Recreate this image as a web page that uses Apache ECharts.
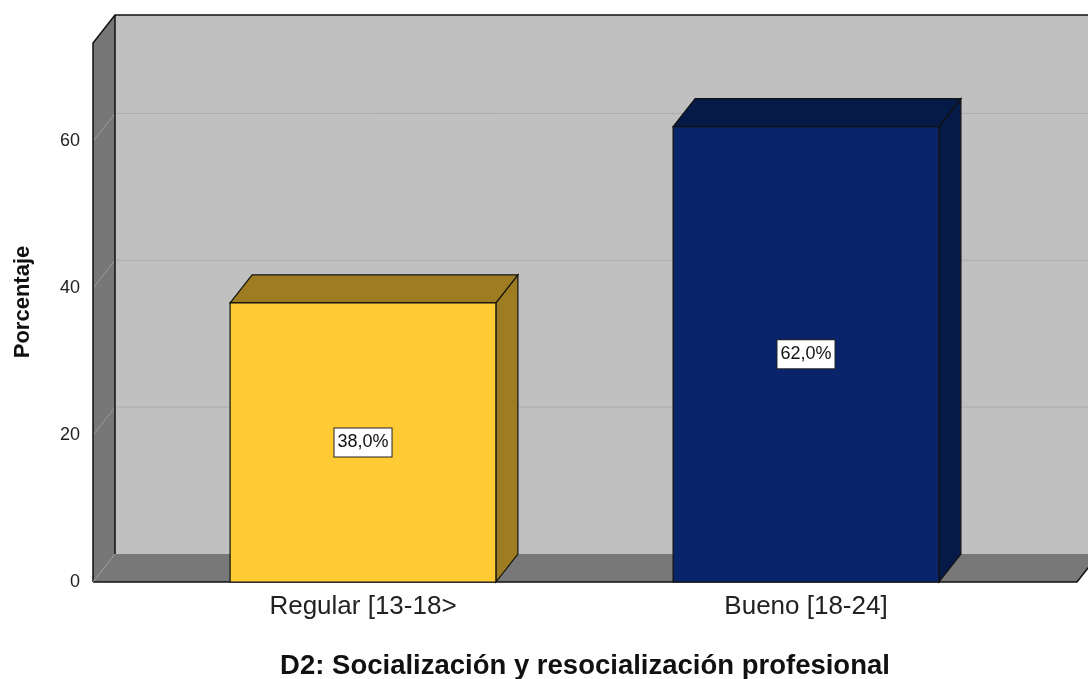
<!DOCTYPE html>
<html>
<head>
<meta charset="utf-8">
<script src="https://cdn.jsdelivr.net/npm/echarts@6/dist/echarts.min.js"></script>
<style>
html, body { margin: 0; padding: 0; background: #fff; }
#chart { width: 1088px; height: 679px; }
</style>
</head>
<body>
<div id="chart"></div>
<script>
let categories = ['Regular [13-18>', 'Bueno [18-24]']
let percentValues = [38.0, 62.0]
let yTicks = [0, 20, 40, 60]
let yMax = 73.4

// profundidad del efecto 3D (px)
let depthX = 22
let depthY = -28

let frontColors = ['#fecb34', '#09246b']
let darkColors = ['#9e7c22', '#061a47']

let fmtPct = v => v.toFixed(1).replace('.', ',') + '%'

let renderWalls = (params, api) => {
	let cs = params.coordSys
	let x0 = cs.x
	let x1 = cs.x + cs.width
	let yb = api.coord([0, 0])[1]
	let yt = api.coord([0, yMax])[1]
	let children = []
	// pared del fondo
	children.push({
		type: 'rect',
		shape: { x: x0 + depthX, y: yt + depthY, width: x1 - x0 + 30, height: yb - yt },
		style: { fill: '#c0c0c0' }
	})
	// pared izquierda
	children.push({
		type: 'polygon',
		shape: { points: [[x0, yt], [x0 + depthX, yt + depthY], [x0 + depthX, yb + depthY], [x0, yb]] },
		style: { fill: '#777777' }
	})
	// suelo
	children.push({
		type: 'polygon',
		shape: { points: [[x0, yb], [x0 + depthX, yb + depthY], [x1 + depthX, yb + depthY], [x1, yb]] },
		style: { fill: '#787878' }
	})
	// lineas de cuadricula
	yTicks.forEach(t => {
		if (t == 0) return
		let y = api.coord([0, t])[1]
		children.push({
			type: 'polyline',
			shape: { points: [[x0, y], [x0 + depthX, y + depthY]] },
			style: { stroke: '#9a9a9a', lineWidth: 1, fill: null }
		})
		children.push({
			type: 'line',
			shape: { x1: x0 + depthX, y1: y + depthY, x2: x1 + depthX + 30, y2: y + depthY },
			style: { stroke: '#acacac', lineWidth: 1 }
		})
	})
	// bordes
	let edge = { stroke: '#111', lineWidth: 1.5, fill: null }
	children.push({
		type: 'polyline',
		shape: { points: [[x0, yb], [x0, yt], [x0 + depthX, yt + depthY], [x1 + depthX + 30, yt + depthY]] },
		style: edge
	})
	children.push({
		type: 'line',
		shape: { x1: x0 + depthX, y1: yt + depthY, x2: x0 + depthX, y2: yb + depthY },
		style: edge
	})
	children.push({
		type: 'polyline',
		shape: { points: [[x0, yb], [x1, yb], [x1 + depthX, yb + depthY]] },
		style: edge
	})
	children.push({
		type: 'line',
		shape: { x1: x0, y1: yb, x2: x0 + depthX, y2: yb + depthY },
		style: { stroke: '#999', lineWidth: 1 }
	})
	return { type: 'group', children: children }
}

let renderBar = (params, api) => {
	let idx = api.value(0)
	let val = api.value(1)
	let pb = api.coord([idx, 0])
	let pt = api.coord([idx, val])
	let bw = api.size([1, 0])[0] * 0.6
	let xl = pb[0] - bw / 2
	let xr = pb[0] + bw / 2
	let yb = pb[1]
	let yt = pt[1]
	let edge = '#111'
	return {
		type: 'group',
		children: [
			{
				type: 'polygon',
				shape: { points: [[xr, yt], [xr + depthX, yt + depthY], [xr + depthX, yb + depthY], [xr, yb]] },
				style: { fill: darkColors[idx], stroke: edge, lineWidth: 1.2 }
			},
			{
				type: 'polygon',
				shape: { points: [[xl, yt], [xl + depthX, yt + depthY], [xr + depthX, yt + depthY], [xr, yt]] },
				style: { fill: darkColors[idx], stroke: edge, lineWidth: 1.2 }
			},
			{
				type: 'rect',
				shape: { x: xl, y: yt, width: bw, height: yb - yt },
				style: { fill: frontColors[idx], stroke: edge, lineWidth: 1.2 }
			},
			{
				type: 'text',
				x: pb[0],
				y: (yt + yb) / 2,
				style: {
					text: fmtPct(val),
					fill: '#111',
					font: '18px "Liberation Sans", Arial, sans-serif',
					align: 'center',
					verticalAlign: 'middle',
					backgroundColor: '#fff',
					borderColor: '#222',
					borderWidth: 1,
					padding: [5, 3, 5, 3]
				}
			}
		]
	}
}

let chart = echarts.init(document.getElementById('chart'))
let option = {
	backgroundColor: '#fff',
	animation: false,
	textStyle: { fontFamily: '"Liberation Sans", Arial, sans-serif' },
	grid: [
		{ left: 93, right: 11, top: 43, bottom: 97, outerBoundsMode: 'none', containLabel: false },
		{ left: 141.5, right: 60.5, top: 43, bottom: 97, outerBoundsMode: 'none', containLabel: false }
	],
	xAxis: [
		{
			gridIndex: 0,
			type: 'value',
			min: 0,
			max: 1,
			name: 'D2: Socialización y resocialización profesional',
			nameLocation: 'middle',
			nameGap: 70,
			nameTextStyle: { fontSize: 27.5, fontWeight: 'bold', color: '#111' },
			axisLine: { show: false },
			axisTick: { show: false },
			axisLabel: { show: false },
			splitLine: { show: false }
		},
		{
			gridIndex: 1,
			type: 'category',
			data: categories,
			axisLine: { show: false },
			axisTick: { show: false },
			axisLabel: { fontSize: 26, color: '#222', margin: 12 },
			splitLine: { show: false }
		}
	],
	yAxis: [
		{
			gridIndex: 0,
			type: 'value',
			min: 0,
			max: yMax,
			interval: 20,
			name: 'Porcentaje',
			nameLocation: 'middle',
			nameRotate: 90,
			nameGap: 59,
			nameTextStyle: { fontSize: 22, fontWeight: 'bold', color: '#111', padding: [0, 0, 0, 21] },
			axisLine: { show: false },
			axisTick: { show: false },
			axisLabel: { fontSize: 18, color: '#222', margin: 13, showMaxLabel: false, padding: [9, 0, 0, 0] },
			splitLine: { show: false }
		},
		{
			gridIndex: 1,
			type: 'value',
			min: 0,
			max: yMax,
			show: false,
			splitLine: { show: false }
		}
	],
	series: [
		{
			type: 'custom',
			xAxisIndex: 0,
			yAxisIndex: 0,
			renderItem: renderWalls,
			data: [[0, 0]],
			silent: true,
			z: 1
		},
		{
			type: 'custom',
			xAxisIndex: 1,
			yAxisIndex: 1,
			renderItem: renderBar,
			data: percentValues.map((v, i) => [i, v]),
			z: 2
		}
	]
}
chart.setOption(option)
</script>
</body>
</html>
